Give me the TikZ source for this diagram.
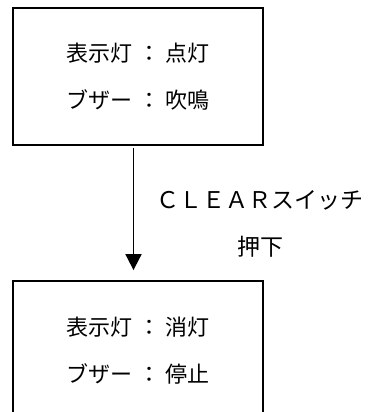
\documentclass[tikz,border=0pt]{standalone}
\usepackage{fontspec}
\newfontfamily\jpfont{Noto Sans CJK JP}
\usetikzlibrary{arrows.meta}
\def\colonsep{\hspace{0.25em}：\hspace{0.25em}}
\tikzset{
  statebox/.style = {draw, line width=1.8pt, minimum width=250pt,
    minimum height=137pt, align=center,
    font=\jpfont\fontsize{22}{47}\selectfont},
}

\begin{document}
\begin{tikzpicture}[x=1pt, y=-1pt]
  \clip (0,0) rectangle (369,412);

  \node [statebox] (lit) at (138,76.5)
    {表示灯\colonsep 点灯\\ブザー\colonsep 吹鳴};
  \node [statebox, minimum height=140pt] (off) at (138,351)
    {表示灯\colonsep 消灯\\ブザー\colonsep 停止};

  \draw [line width=1.8pt, shorten <=2pt, shorten >=10pt,
    -{Triangle[length=16pt, width=16pt]}]
    ([xshift=-4.5pt]lit.south) -- ([xshift=-4.5pt]off.north);

  \node [align=center, font=\jpfont\fontsize{23}{47}\selectfont] (press)
    at (260,223.5) {ＣＬＥＡＲスイッチ\\押下};

\end{tikzpicture}
\end{document}
